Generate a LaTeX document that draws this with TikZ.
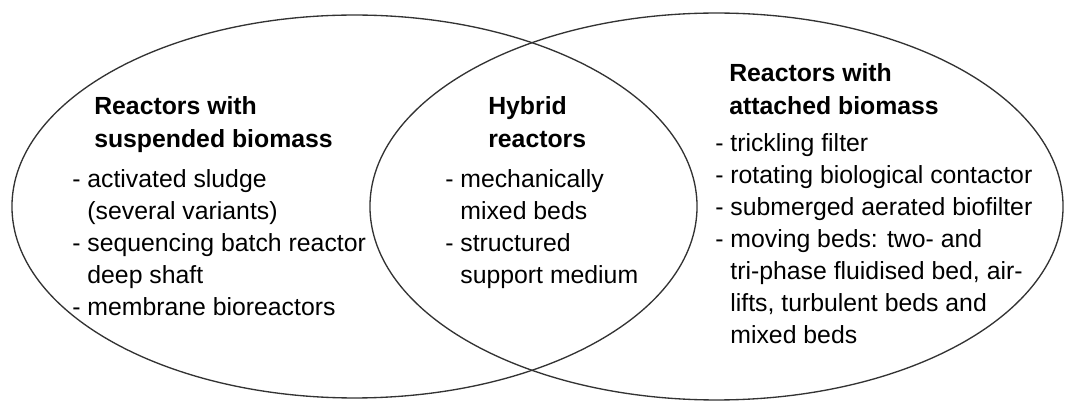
\documentclass[tikz,border=0pt]{standalone}
\usepackage{fontspec}
\setmainfont{Liberation Sans}

% list body: a dash column and a text column, so wrapped lines hang under the text
\newcommand{\dashlist}[1]{\begin{tabular}[t]{@{}l@{\ }l@{}}#1\end{tabular}}
\newcommand{\headlines}[1]{\begin{tabular}[t]{@{}l@{}}#1\end{tabular}}

\tikzset{
  venn/.style={draw=black!80, line width=1pt},
  head/.style={anchor=base west, inner sep=0pt,
    font=\fontsize{18.6}{24.75}\selectfont\bfseries},
  items/.style={anchor=base west, inner sep=0pt,
    font=\fontsize{18.6}{24}\selectfont},
}

\begin{document}
\begin{tikzpicture}[x=0.75pt, y=-0.75pt]
  \useasboundingbox (0,0) rectangle (1066,402);

  % the two overlapping sets
  \draw[venn] (354.5,206.5) ellipse [x radius=256.9pt, y radius=143.6pt];
  \draw[venn] (716.5,206.5) ellipse [x radius=259.9pt, y radius=145.1pt];

  % suspended biomass
  \node[head] (lh) at (94,115) {\headlines{Reactors with\\suspended biomass}};
  \node[items] (ll) at (72,188) {\dashlist{
    - & activated sludge\\
      & (several variants)\\
    - & sequencing batch reactor\\
      & deep shaft\\
    - & membrane bioreactors}};

  % hybrid
  \node[head] (mh) at (488,115) {\headlines{Hybrid\\reactors}};
  \node[items] (ml) at (445,188) {\dashlist{
    - & mechanically\\
      & mixed beds\\
    - & structured\\
      & support medium}};

  % attached biomass
  \node[head] (rh) at (729,82) {\headlines{Reactors with\\attached biomass}};
  \node[items] (rl) at (715,152) {\dashlist{
    - & trickling filter\\
    - & rotating biological contactor\\
    - & submerged aerated biofilter\\
    - & moving beds: two- and\\
      & tri-phase fluidised bed, air-\\
      & lifts, turbulent beds and\\
      & mixed beds}};
\end{tikzpicture}
\end{document}
